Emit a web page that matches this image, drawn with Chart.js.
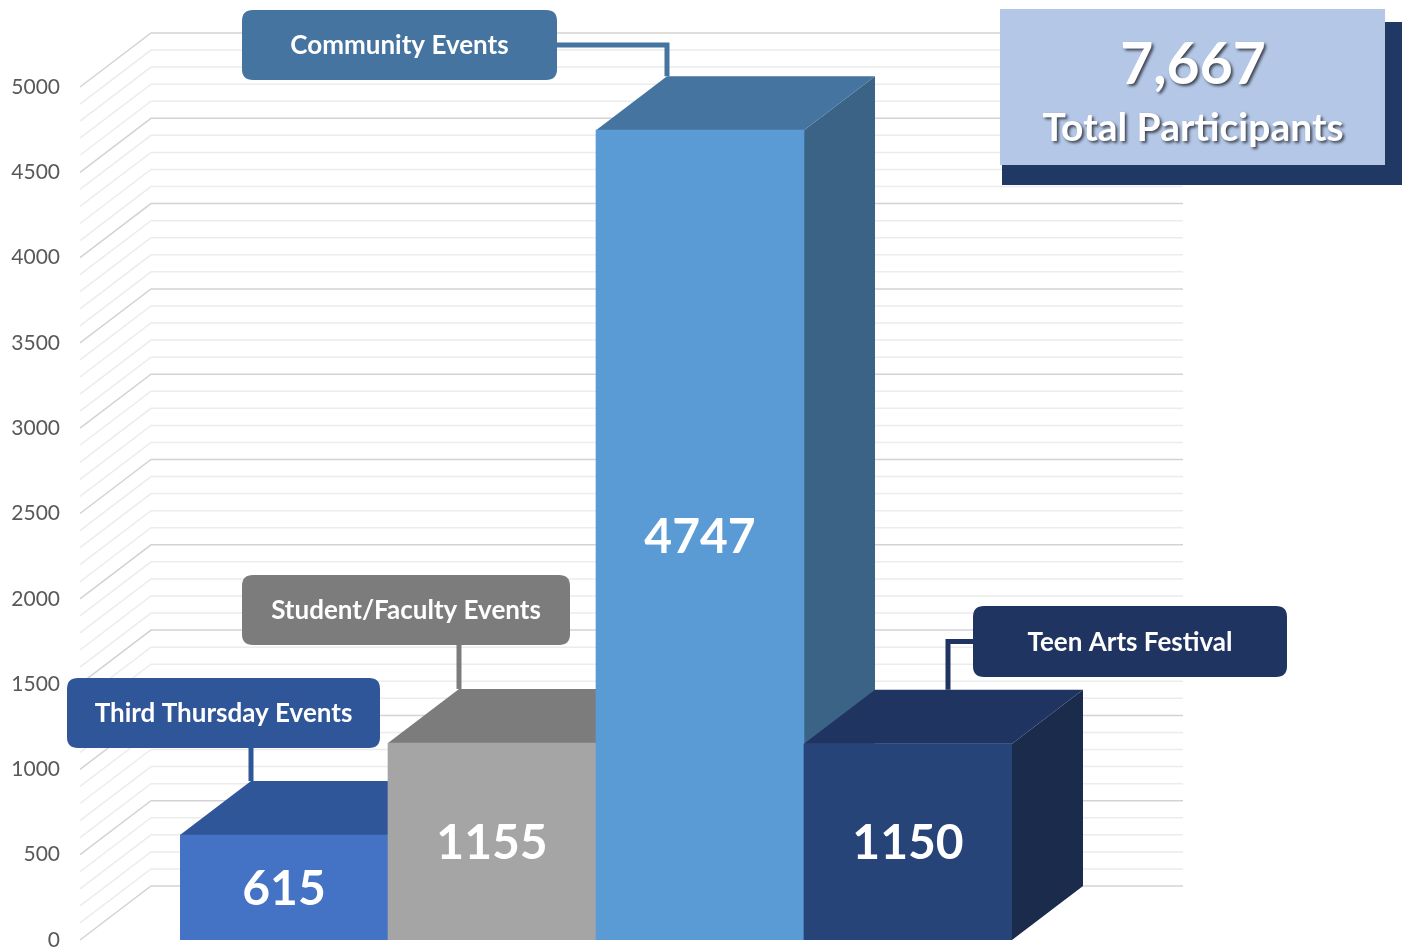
<!DOCTYPE html>
<html>
<head>
<meta charset="utf-8">
<script src="https://cdn.jsdelivr.net/npm/chart.js@4.4.0/dist/chart.umd.min.js"></script>
<style>
    body { margin: 0; background: #ffffff; }
    #wrap { width: 1409px; height: 950px; }
</style>
</head>
<body>
<div id="wrap"><canvas id="eventsChart" width="1409" height="950"></canvas></div>
<script>
// Datos
const categories = ['Third Thursday Events', 'Student/Faculty Events', 'Community Events', 'Teen Arts Festival'];
const participants = [615, 1155, 4747, 1150];
const yTicks = [0, 500, 1000, 1500, 2000, 2500, 3000, 3500, 4000, 4500, 5000];
const totalLabel = 'Total Participants';

// Colores
const frontColors = ['#4472c4', '#a5a5a5', '#5b9bd5', '#264478'];
const topColors = ['#30569a', '#7c7c7c', '#44749f', '#1f3460'];
const sideColors = ['#2a4a85', '#6a6a6a', '#3a6386', '#1a2b4b'];
const calloutColors = ['#30569a', '#7c7c7c', '#44749f', '#1f3460'];

const FONT = 'Lato, "Open Sans", sans-serif';
const depthX = 71;
const depthY = 54;

// Cajas de etiquetas (x, y, ancho, alto) y conector
const calloutBoxes = [
    { x: 67, y: 678, w: 313, h: 70, from: 'bottom', dx: 0 },
    { x: 242, y: 575, w: 328, h: 70, from: 'bottom', dx: 0 },
    { x: 242, y: 10, w: 315, h: 70, from: 'right', dx: 0 },
    { x: 973, y: 606, w: 314, h: 71, from: 'left', dx: 73 }
];

function roundRect(ctx, x, y, w, h, r) {
    ctx.beginPath();
    ctx.moveTo(x + r, y);
    ctx.lineTo(x + w - r, y);
    ctx.quadraticCurveTo(x + w, y, x + w, y + r);
    ctx.lineTo(x + w, y + h - r);
    ctx.quadraticCurveTo(x + w, y + h, x + w - r, y + h);
    ctx.lineTo(x + r, y + h);
    ctx.quadraticCurveTo(x, y + h, x, y + h - r);
    ctx.lineTo(x, y + r);
    ctx.quadraticCurveTo(x, y, x + r, y);
    ctx.closePath();
}

const wallPlugin = {
    id: 'wall3d',
    beforeDatasetsDraw(chart) {
        const { ctx, chartArea, scales } = chart;
        const y = scales.y;
        const left = chartArea.left - 100;
        const right = chartArea.right + 171;
        ctx.save();
        // rejilla lateral y de fondo
        for (let v = y.min; v <= y.max; v += 100) {
            const py = y.getPixelForValue(v);
            ctx.strokeStyle = v % 500 === 0 ? '#d3d3d3' : '#ececec';
            ctx.lineWidth = 1.5;
            ctx.beginPath();
            ctx.moveTo(left, py);
            ctx.lineTo(left + depthX, py - depthY);
            ctx.lineTo(right, py - depthY);
            ctx.stroke();
        }
        // caras laterales y superiores
        const meta = chart.getDatasetMeta(0);
        meta.data.forEach((bar, i) => {
            const x0 = bar.x - bar.width / 2;
            const x1 = bar.x + bar.width / 2;
            const top = bar.y;
            const base = bar.base;
            ctx.fillStyle = sideColors[i];
            ctx.beginPath();
            ctx.moveTo(x1, top);
            ctx.lineTo(x1 + depthX, top - depthY);
            ctx.lineTo(x1 + depthX, base - depthY);
            ctx.lineTo(x1, base);
            ctx.closePath();
            ctx.fill();

            ctx.fillStyle = topColors[i];
            ctx.beginPath();
            ctx.moveTo(x0, top);
            ctx.lineTo(x0 + depthX, top - depthY);
            ctx.lineTo(x1 + depthX, top - depthY);
            ctx.lineTo(x1, top);
            ctx.closePath();
            ctx.fill();
        });
        ctx.restore();
    },
    afterDatasetsDraw(chart) {
        const { ctx } = chart;
        const meta = chart.getDatasetMeta(0);
        ctx.save();

        // valores dentro de las barras
        ctx.fillStyle = '#ffffff';
        ctx.font = 'bold 48px ' + FONT;
        ctx.textAlign = 'center';
        ctx.textBaseline = 'middle';
        meta.data.forEach((bar, i) => {
            ctx.fillText(String(participants[i]), bar.x, (bar.y + bar.base) / 2 + 2);
        });

        // etiquetas con conectores
        meta.data.forEach((bar, i) => {
            const b = calloutBoxes[i];
            const col = calloutColors[i];
            const ax = bar.x - bar.width / 2 + depthX + b.dx;
            const ay = bar.y - depthY;
            ctx.strokeStyle = col;
            ctx.lineWidth = 5;
            ctx.beginPath();
            if (b.from === 'bottom') {
                ctx.moveTo(ax, b.y + b.h);
                ctx.lineTo(ax, ay);
            } else if (b.from === 'right') {
                const cy = b.y + b.h / 2;
                ctx.moveTo(b.x + b.w, cy);
                ctx.lineTo(ax, cy);
                ctx.lineTo(ax, ay);
            } else {
                const cy = b.y + b.h / 2;
                ctx.moveTo(b.x, cy);
                ctx.lineTo(ax, cy);
                ctx.lineTo(ax, ay);
            }
            ctx.stroke();

            ctx.fillStyle = col;
            roundRect(ctx, b.x, b.y, b.w, b.h, 11);
            ctx.fill();
            ctx.fillStyle = '#ffffff';
            ctx.font = 'bold 26px ' + FONT;
            ctx.fillText(categories[i], b.x + b.w / 2, b.y + b.h / 2 + 1);
        });

        // caja de total
        const total = participants.reduce((a, b) => a + b, 0);
        ctx.fillStyle = '#203864';
        ctx.fillRect(1002, 22, 400, 163);
        ctx.fillStyle = '#b4c7e7';
        ctx.fillRect(1000, 9, 385, 156);
        ctx.shadowColor = 'rgba(0,0,0,0.65)';
        ctx.shadowOffsetX = 2;
        ctx.shadowOffsetY = 2;
        ctx.shadowBlur = 3;
        ctx.fillStyle = '#ffffff';
        ctx.font = 'bold 57px ' + FONT;
        ctx.fillText(total.toLocaleString('en-US'), 1193, 66);
        ctx.font = 'bold 39px ' + FONT;
        ctx.fillText(totalLabel, 1193, 128);
        ctx.restore();
    }
};

const chart = new Chart(document.getElementById('eventsChart'), {
    type: 'bar',
    data: {
        labels: categories,
        datasets: [{
            data: participants,
            backgroundColor: frontColors,
            borderWidth: 0,
            barPercentage: 1,
            categoryPercentage: 1
        }]
    },
    options: {
        responsive: false,
        animation: false,
        layout: { padding: { top: 87, bottom: 10, left: 0, right: 397 } },
        plugins: {
            legend: { display: false },
            tooltip: { enabled: false }
        },
        scales: {
            x: { display: false },
            y: {
                min: 0,
                max: 5000,
                afterBuildTicks: (axis) => { axis.ticks = yTicks.map(v => ({ value: v })); },
                afterFit: (axis) => {
                    axis.width = 180;
                    axis.paddingTop = 0;
                    axis.paddingBottom = 0;
                },
                border: { display: false },
                grid: { display: false, drawTicks: false },
                ticks: {
                    padding: 120,
                    color: '#595959',
                    font: { family: FONT, size: 21 },
                    callback: (v) => String(v)
                }
            }
        }
    },
    plugins: [wallPlugin]
});
</script>
</body>
</html>
